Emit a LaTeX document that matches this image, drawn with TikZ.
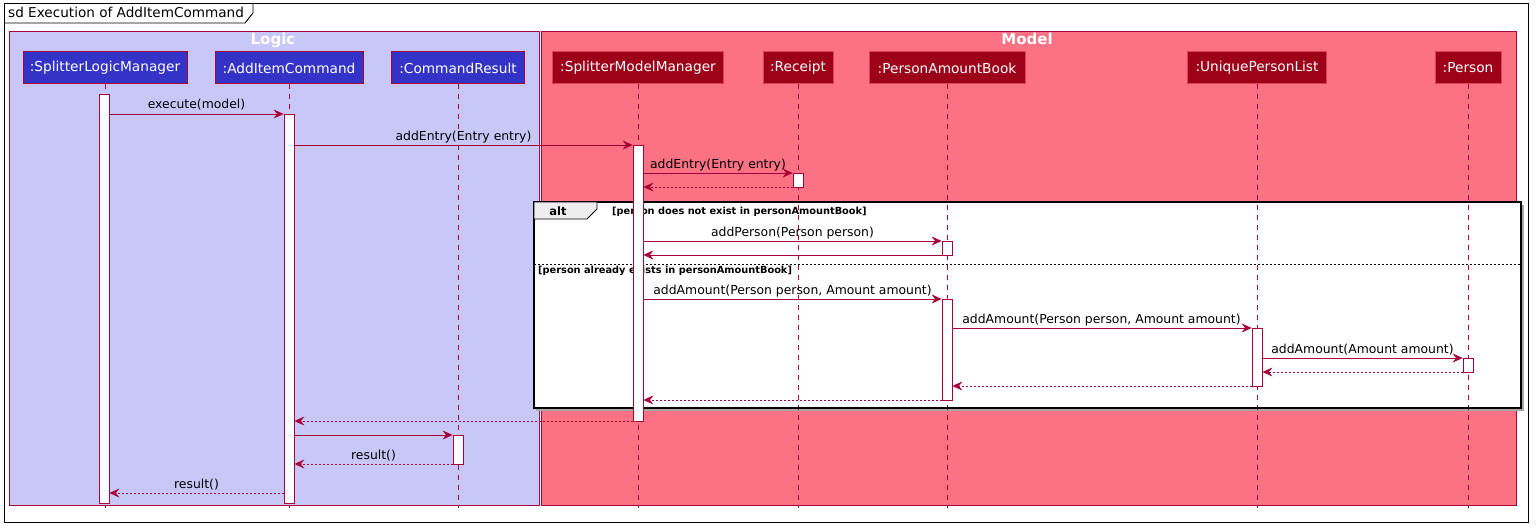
\documentclass[tikz,border=0pt]{standalone}
\usepackage{fontspec}
\setmainfont{DejaVu Sans}
\usetikzlibrary{arrows.meta}
\definecolor{crim}{HTML}{A80036}
\definecolor{logicbg}{HTML}{C8C8F8}
\definecolor{modelbg}{HTML}{FA7283}
\definecolor{lpartbg}{HTML}{3333C8}
\definecolor{mpartbg}{HTML}{9D0019}
\definecolor{mpartborder}{HTML}{E0405A}
\definecolor{tabgray}{HTML}{EEEEEE}
\newcommand\pfont{\fontsize{13.7}{15}\selectfont}
\newcommand\mfont{\fontsize{12.4}{14}\selectfont}
\newcommand\gfont{\fontsize{9.8}{11}\selectfont\bfseries}
\newcommand\tfont{\fontsize{13.6}{15}\selectfont}
\newcommand\hfont{\fontsize{15}{17}\selectfont\bfseries}
\begin{document}
\begin{tikzpicture}[x=1pt,y=-1pt,
  msg/.style={draw=crim, line width=0.8pt, -{Stealth[length=10pt,width=9pt,inset=3.5pt]}},
  ret/.style={msg, dash pattern=on 2pt off 2pt},
  lifeline/.style={draw=crim, line width=0.8pt, dash pattern=on 5pt off 5pt},
  act/.style={draw=crim, fill=white, line width=0.8pt, minimum width=10pt, inner sep=0pt, anchor=north},
  lpart/.style={draw=crim, fill=lpartbg, text=white, font=\pfont, minimum height=32pt, inner sep=0pt, line width=1pt},
  mpart/.style={lpart, draw=mpartborder, fill=mpartbg},
  lbl/.style={font=\mfont, anchor=base, inner sep=0pt},
  guard/.style={font=\gfont, anchor=base west, inner sep=0pt},
  grp/.style={draw=crim, line width=0.8pt},
  grptitle/.style={font=\hfont, text=white, anchor=base, inner sep=0pt},
]
\useasboundingbox (0,0) rectangle (1538,532);
\fill[white] (0,0) rectangle (1538,532);
% outer frame
\draw[black, line width=0.9pt] (4,3) rectangle (1528,522);
\draw[black, line width=0.9pt] (4,23) -- (245,23) -- (253,13) -- (253,3);
\node[font=\tfont, anchor=base west, inner sep=0pt] (title) at (8,18) {sd Execution of AddItemCommand};
% groups
\draw[grp, fill=logicbg] (9,31) rectangle (539,505);
\draw[grp, fill=modelbg] (541,31) rectangle (1516,505);
\node[grptitle] (logicT) at (273,45) {Logic};
\node[grptitle] (modelT) at (1027,45) {Model};
% alt frame background
\fill[gray!70] (536,204.5) rectangle (1523.5,410.5);
\fill[white] (534,202) rectangle (1521,408);
% participants
\node[lpart, minimum width=164pt] (slm) at (105,68) {:SplitterLogicManager};
\node[lpart, minimum width=148pt] (aic) at (289,68) {:AddItemCommand};
\node[lpart, minimum width=133pt] (cr) at (458,68) {:CommandResult};
\node[mpart, minimum width=171pt] (smm) at (638,68) {:SplitterModelManager};
\node[mpart, minimum width=70pt] (rec) at (798,68) {:Receipt};
\node[mpart, minimum width=156pt] (pab) at (947,68) {:PersonAmountBook};
\node[mpart, minimum width=139pt] (upl) at (1257,68) {:UniquePersonList};
\node[mpart, minimum width=66pt] (per) at (1468,68) {:Person};
% lifelines
\draw[lifeline] (slm.south) -- (slm.south |- 0,508);
\draw[lifeline] (aic.south) -- (aic.south |- 0,508);
\draw[lifeline] (cr.south) -- (cr.south |- 0,508);
\draw[lifeline] (smm.south) -- (smm.south |- 0,508);
\draw[lifeline] (rec.south) -- (rec.south |- 0,508);
\draw[lifeline] (pab.south) -- (pab.south |- 0,508);
\draw[lifeline] (upl.south) -- (upl.south |- 0,508);
\draw[lifeline] (per.south) -- (per.south |- 0,508);
% alt frame border
\draw[black, line width=1.6pt] (534,202) rectangle (1521,408);
\draw[black, line width=0.9pt, fill=tabgray] (534,202) -- (597,202) -- (597,209) -- (587,219) -- (534,219) -- cycle;
\node[font=\fontsize{11.5}{13}\selectfont\bfseries, anchor=base, inner sep=0pt] (altT) at (558,215) {alt};
\node[guard] (g1) at (612,214) {[person does not exist in personAmountBook]};
\draw[black, line width=0.7pt, dash pattern=on 2pt off 2pt] (534,264) -- (1521,264);
\node[guard] (g2) at (538,273) {[person already exists in personAmountBook]};
% activations
\node[act, minimum height=409pt] (aslm) at (104,94) {};
\node[act, minimum height=389pt] (aaic) at (289,114) {};
\node[act, minimum height=276pt] (asmm) at (638,145) {};
\node[act, minimum height=14pt] (arec) at (798,173) {};
\node[act, minimum height=14pt] (apab1) at (947,241) {};
\node[act, minimum height=101pt] (apab2) at (947,299) {};
\node[act, minimum height=58pt] (aupl) at (1257,328) {};
\node[act, minimum height=14pt] (aper) at (1468,358) {};
\node[act, minimum height=29pt] (acr) at (458,435) {};
% messages
\draw[msg] (aslm.east |- 0,114) -- (aaic.west |- 0,114);
\node[lbl] (l1) at (196.5,109) {execute(model)};
\draw[msg] (aaic.east |- 0,145) -- (asmm.west |- 0,145);
\node[lbl] (l2) at (463.5,140) {addEntry(Entry entry)};
\draw[msg] (asmm.east |- 0,173) -- (arec.west |- 0,173);
\node[lbl] (l3) at (718,168) {addEntry(Entry entry)};
\draw[ret] (arec.west |- 0,187) -- (asmm.east |- 0,187);
\draw[msg] (asmm.east |- 0,241) -- (apab1.west |- 0,241);
\node[lbl] (l4) at (792.5,236) {addPerson(Person person)};
\draw[msg] (apab1.west |- 0,255) -- (asmm.east |- 0,255);
\draw[msg] (asmm.east |- 0,299) -- (apab2.west |- 0,299);
\node[lbl] (l5) at (792.5,294) {addAmount(Person person, Amount amount)};
\draw[msg] (apab2.east |- 0,328) -- (aupl.west |- 0,328);
\node[lbl] (l6) at (1101.5,323) {addAmount(Person person, Amount amount)};
\draw[msg] (aupl.east |- 0,358) -- (aper.west |- 0,358);
\node[lbl] (l7) at (1362.5,353) {addAmount(Amount amount)};
\draw[ret] (aper.west |- 0,372) -- (aupl.east |- 0,372);
\draw[ret] (aupl.west |- 0,386) -- (apab2.east |- 0,386);
\draw[ret] (apab2.west |- 0,400) -- (asmm.east |- 0,400);
\draw[ret] (asmm.west |- 0,421) -- (aaic.east |- 0,421);
\draw[msg] (aaic.east |- 0,435) -- (acr.west |- 0,435);
\draw[ret] (acr.west |- 0,464) -- (aaic.east |- 0,464);
\node[lbl] (l8) at (373.5,459) {result()};
\draw[ret] (aaic.west |- 0,493) -- (aslm.east |- 0,493);
\node[lbl] (l9) at (196.5,488) {result()};
\end{tikzpicture}
\end{document}
